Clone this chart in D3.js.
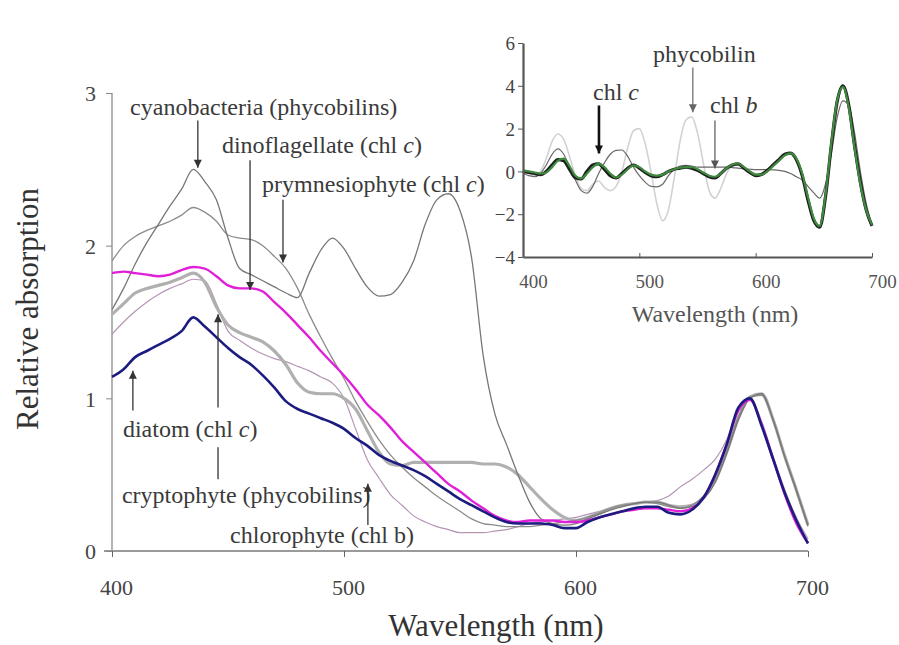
<!DOCTYPE html>
<html>
<head>
<meta charset="utf-8">
<script src="https://cdn.jsdelivr.net/npm/d3@7"></script>
<style>
  body { margin: 0; background: #fff; }
</style>
</head>
<body>
<div id="chart"></div>
<script>
// wavelength grid (nm), shared by every curve
var wavelength = [400,405,410,415,420,425,430,435,440,445,450,455,460,465,470,475,480,485,490,495,
  500,505,510,515,520,525,530,535,540,545,550,555,560,565,570,575,580,585,590,595,
  600,605,610,615,620,625,630,635,640,645,650,655,660,665,670,675,680,685,690,695,700];

// main panel: relative absorption spectra
var cyanobacteria = [1.58,1.72,1.88,2.02,2.14,2.26,2.37,2.50,2.42,2.30,2.05,1.85,1.81,1.77,1.73,1.69,1.66,1.82,1.97,2.05,
  1.98,1.85,1.73,1.67,1.68,1.76,1.90,2.14,2.30,2.34,2.23,1.92,1.28,0.90,0.70,0.50,0.32,0.21,0.18,0.17,
  0.18,0.21,0.24,0.27,0.29,0.31,0.32,0.32,0.30,0.28,0.29,0.34,0.45,0.64,0.86,1.00,1.03,0.86,0.62,0.40,0.17];
var prymnesiophyte = [1.90,2.00,2.06,2.10,2.13,2.16,2.20,2.25,2.22,2.16,2.07,2.05,2.04,2.00,1.93,1.85,1.72,1.55,1.40,1.26,
  1.13,0.98,0.85,0.73,0.63,0.55,0.48,0.42,0.36,0.31,0.26,0.21,0.18,0.17,0.16,0.16,0.16,0.17,0.18,0.19,
  0.20,0.22,0.25,0.28,0.30,0.31,0.32,0.31,0.29,0.28,0.30,0.36,0.47,0.66,0.88,1.01,1.02,0.85,0.61,0.39,0.16];
var dinoflagellate = [1.82,1.83,1.82,1.81,1.80,1.81,1.84,1.86,1.85,1.80,1.74,1.72,1.72,1.70,1.63,1.56,1.48,1.40,1.31,1.23,
  1.15,1.06,0.96,0.89,0.81,0.72,0.65,0.58,0.51,0.44,0.39,0.33,0.28,0.23,0.20,0.19,0.20,0.20,0.20,0.19,
  0.19,0.20,0.22,0.24,0.26,0.27,0.28,0.28,0.27,0.26,0.28,0.35,0.50,0.70,0.92,0.99,0.83,0.60,0.37,0.18,0.05];
var diatom = [1.14,1.19,1.27,1.31,1.35,1.39,1.44,1.53,1.47,1.40,1.33,1.27,1.22,1.15,1.07,0.98,0.93,0.90,0.87,0.84,
  0.80,0.74,0.69,0.63,0.59,0.56,0.53,0.49,0.44,0.39,0.34,0.30,0.26,0.22,0.19,0.18,0.18,0.18,0.17,0.15,
  0.15,0.19,0.22,0.24,0.26,0.28,0.29,0.29,0.25,0.24,0.27,0.35,0.50,0.70,0.94,1.00,0.82,0.60,0.38,0.20,0.05];
var cryptophyte = [1.55,1.62,1.69,1.72,1.74,1.76,1.79,1.82,1.76,1.60,1.48,1.43,1.40,1.37,1.31,1.22,1.10,1.04,1.03,1.03,
  1.00,0.93,0.79,0.65,0.57,0.56,0.58,0.58,0.58,0.58,0.58,0.58,0.57,0.57,0.55,0.50,0.42,0.34,0.27,0.22,
  0.20,0.22,0.25,0.28,0.30,0.31,0.32,0.32,0.30,0.29,0.30,0.35,0.46,0.65,0.87,1.01,1.03,0.86,0.62,0.40,0.17];
var chlorophyte = [1.42,1.50,1.57,1.63,1.68,1.72,1.75,1.78,1.77,1.62,1.44,1.38,1.33,1.29,1.26,1.24,1.21,1.18,1.14,1.10,
  1.00,0.80,0.60,0.48,0.37,0.30,0.23,0.19,0.16,0.14,0.12,0.12,0.12,0.13,0.14,0.16,0.18,0.19,0.20,0.21,
  0.22,0.24,0.26,0.28,0.30,0.31,0.32,0.33,0.36,0.42,0.47,0.53,0.60,0.73,0.94,1.00,0.85,0.62,0.40,0.22,0.08];

// inset: fourth-derivative style spectra
var insetGreen = [0.05,0.00,-0.05,-0.10,-0.05,0.20,0.50,0.60,0.25,-0.20,-0.33,-0.10,0.20,0.35,0.20,-0.10,-0.28,-0.15,0.10,0.28,
  0.20,0.00,-0.15,-0.20,-0.15,0.00,0.10,0.18,0.20,0.20,0.10,-0.05,-0.20,-0.25,-0.10,0.15,0.32,0.37,0.20,0.00,
  -0.15,-0.15,0.00,0.25,0.50,0.75,0.84,0.60,-0.10,-1.20,-2.20,-2.55,-1.10,1.30,3.30,3.95,3.00,1.10,-0.60,-1.80,-2.50];
var insetBlack = [0.00,-0.05,-0.10,-0.15,0.00,0.30,0.55,0.50,0.10,-0.30,-0.35,0.00,0.30,0.35,0.10,-0.20,-0.30,-0.10,0.15,0.30,
  0.15,-0.05,-0.20,-0.25,-0.15,0.00,0.10,0.15,0.20,0.15,0.05,-0.10,-0.25,-0.30,-0.10,0.15,0.30,0.35,0.15,-0.05,
  -0.20,-0.15,0.05,0.30,0.55,0.80,0.85,0.55,-0.20,-1.35,-2.30,-2.60,-1.20,1.20,3.25,4.00,3.10,1.20,-0.50,-1.80,-2.55];
var insetDarkGray = [-0.10,-0.20,-0.25,-0.10,0.30,0.80,1.05,0.80,0.20,-0.40,-0.90,-1.02,-0.70,-0.10,0.40,0.80,0.98,1.00,0.70,0.20,
  -0.20,-0.50,-0.70,-0.72,-0.60,-0.20,0.10,0.25,0.28,0.25,0.20,0.20,0.20,0.20,0.20,0.20,0.18,0.15,0.12,0.10,
  0.08,0.08,0.08,0.07,0.05,0.00,-0.10,-0.25,-0.40,-0.70,-1.00,-1.25,-0.60,0.80,2.50,3.30,3.10,1.80,0.00,-1.50,-2.50];
var insetPhycobilin = [0.00,-0.10,-0.20,0.00,0.60,1.40,1.75,1.50,0.70,-0.20,-0.80,-0.90,-0.60,-0.45,-0.75,-0.90,-0.70,0.00,1.10,1.90,
  2.00,1.30,0.00,-1.50,-2.30,-1.80,-0.30,1.40,2.40,2.55,1.80,0.40,-0.90,-1.25,-0.80,-0.10,0.25,0.30,0.15,0.00,
  -0.10,-0.10,0.00,0.25,0.50,0.75,0.80,0.45,-0.20,-1.30,-2.30,-2.50,-1.20,1.00,3.20,3.90,3.00,1.10,-0.60,-1.80,-2.50];

var mainTicksX = [400, 500, 600, 700],
    mainTicksY = [0, 1, 2, 3],
    insetTicksX = [400, 500, 600, 700],
    insetTicksY = [-4, -2, 0, 2, 4, 6];

var serif = "Liberation Serif, Times New Roman, Times, DejaVu Serif, serif";

var svg = d3.select("#chart")
  .append("svg")
    .attr("width", 899)
    .attr("height", 645)
    .style("font-family", serif);

// ---------- main panel ----------
var x = d3.scaleLinear().domain([400, 700]).range([112, 808]);
var y = d3.scaleLinear().domain([0, 3]).range([551, 93]);

// axes
svg.append("line")
  .attr("x1", x(400) - 8).attr("x2", x(700))
  .attr("y1", y(0)).attr("y2", y(0))
  .attr("stroke", "#9a9a9a").attr("stroke-width", 2);
svg.append("line")
  .attr("x1", x(400)).attr("x2", x(400))
  .attr("y1", y(0)).attr("y2", y(3))
  .attr("stroke", "#9a9a9a").attr("stroke-width", 1.5);

var xAxis = svg.append("g")
  .attr("transform", "translate(0," + y(0) + ")")
  .call(d3.axisBottom(x).tickValues(mainTicksX).tickSize(6).tickSizeOuter(0));
xAxis.select(".domain").remove();
xAxis.selectAll("line").attr("stroke", "#666");
xAxis.selectAll("text")
  .attr("dx", 4).attr("dy", 0).attr("y", 44)
  .style("font-family", serif)
  .style("font-size", "22px").attr("fill", "#444");

var yAxis = svg.append("g")
  .attr("transform", "translate(" + x(400) + ",0)")
  .call(d3.axisLeft(y).tickValues(mainTicksY).tickSize(6).tickSizeOuter(0).tickFormat(d3.format("d")));
yAxis.select(".domain").remove();
yAxis.selectAll("line").attr("stroke", "#888");
yAxis.selectAll("text")
  .attr("x", -16).attr("dy", "0.35em")
  .style("font-family", serif)
  .style("font-size", "22px").attr("fill", "#444");

// curves
var line = d3.line()
  .x(function(d) { return x(d[0]); })
  .y(function(d) { return y(d[1]); })
  .curve(d3.curveMonotoneX);

var mainSeries = [
  { values: chlorophyte,    color: "#b596b5", width: 1.2 },
  { values: cryptophyte,    color: "#b0b0b0", width: 3.2 },
  { values: prymnesiophyte, color: "#8c8c8c", width: 1.3 },
  { values: cyanobacteria,  color: "#777777", width: 1.3 },
  { values: dinoflagellate, color: "#e020d8", width: 2.4 },
  { values: diatom,         color: "#1c1c80", width: 2.6 }
];

svg.append("g")
  .selectAll("path")
  .data(mainSeries)
  .enter()
  .append("path")
    .attr("fill", "none")
    .attr("stroke", function(d) { return d.color; })
    .attr("stroke-width", function(d) { return d.width; })
    .attr("stroke-linejoin", "round")
    .attr("d", function(d) { return line(wavelength.map(function(w, i) { return [w, d.values[i]]; })); });

// axis titles
svg.append("text")
  .attr("text-anchor", "middle")
  .attr("x", 496).attr("y", 636)
  .style("font-family", serif)
  .style("font-size", "31px").attr("fill", "#333")
  .text("Wavelength (nm)");
svg.append("text")
  .attr("text-anchor", "middle")
  .attr("transform", "translate(38,309) rotate(-90)")
  .style("font-family", serif)
  .style("font-size", "31px").attr("fill", "#333")
  .text("Relative absorption");

// arrows pointing at the curves
function arrow(g, ax, y0, y1, color, w, head) {
  g.append("line")
    .attr("x1", ax).attr("x2", ax).attr("y1", y0).attr("y2", y1)
    .attr("stroke", color).attr("stroke-width", w);
  var dir = y1 > y0 ? 1 : -1;
  g.append("path")
    .attr("d", "M" + ax + "," + y1 + "L" + (ax - head / 2) + "," + (y1 - dir * head) +
               "L" + (ax + head / 2) + "," + (y1 - dir * head) + "Z")
    .attr("fill", color);
}

// labels: text start (nm, value) and arrow (nm, from value, to value)
var mainLabels = [
  { name: "cyanobacteria (phycobilins)", it: "", tx: 407.8, ty: 2.856, ax: 437, a0: 2.82, a1: 2.51 },
  { name: "dinoflagellate (chl ", it: "c", tail: ")", tx: 447.4, ty: 2.607, ax: 459.5, a0: 2.56, a1: 1.71 },
  { name: "prymnesiophyte (chl ", it: "c", tail: ")", tx: 464.7, ty: 2.351, ax: 473.7, a0: 2.30, a1: 1.89 },
  { name: "diatom (chl ", it: "c", tail: ")", tx: 404.7, ty: 0.747, ax: 409, a0: 0.92, a1: 1.18 },
  { name: "cryptophyte (phycobilins)", it: "", tx: 404.3, ty: 0.314, ax: 445.7, a0: 0.94, a1: 1.55 },
  { name: "chlorophyte (chl b)", it: "", tx: 450.9, ty: 0.052, ax: 510.3, a0: 0.17, a1: 0.44 }
];

var labelG = svg.append("g");
mainLabels.forEach(function(d) {
  var t = labelG.append("text")
    .attr("x", x(d.tx)).attr("y", y(d.ty))
    .style("font-family", serif)
    .style("font-size", "24px").attr("fill", "#3a3a3a");
  t.append("tspan").text(d.name);
  if (d.it) {
    t.append("tspan").style("font-style", "italic").text(d.it);
    t.append("tspan").text(d.tail);
  }
  arrow(labelG, x(d.ax), y(d.a0), y(d.a1), "#333", 1.3, 8);
});
// lower piece of the cryptophyte arrow, below the diatom label
labelG.append("line")
  .attr("x1", x(445.7)).attr("x2", x(445.7))
  .attr("y1", y(0.68)).attr("y2", y(0.47))
  .attr("stroke", "#333").attr("stroke-width", 1.3);

// ---------- inset ----------
var xi = d3.scaleLinear().domain([400, 700]).range([523, 872]);
var yi = d3.scaleLinear().domain([-4, 6]).range([257, 43]);

var insetSeries = [
  { values: insetPhycobilin, color: "#d2d2d2", width: 1.6 },
  { values: insetDarkGray,   color: "#6a6a6a", width: 1.2 },
  { values: insetBlack,      color: "#1e1e1e", width: 3.2 },
  { values: insetGreen,      color: "#3f8a3f", width: 2.2 }
];

var lineI = d3.line()
  .x(function(d) { return xi(d[0]); })
  .y(function(d) { return yi(d[1]); })
  .curve(d3.curveMonotoneX);

svg.append("g")
  .selectAll("path")
  .data(insetSeries)
  .enter()
  .append("path")
    .attr("fill", "none")
    .attr("stroke", function(d) { return d.color; })
    .attr("stroke-width", function(d) { return d.width; })
    .attr("stroke-linejoin", "round")
    .attr("d", function(d) { return lineI(wavelength.map(function(w, i) { return [w, d.values[i]]; })); });

var xiAxis = svg.append("g")
  .attr("transform", "translate(0," + yi(-4) + ")")
  .call(d3.axisBottom(xi).tickValues(insetTicksX).tickSize(-4).tickSizeOuter(0));
xiAxis.select(".domain").attr("stroke", "#555").attr("stroke-width", 2.2);
xiAxis.selectAll("line").attr("stroke", "#555");
xiAxis.selectAll("text")
  .attr("dx", 10).attr("dy", 0).attr("y", 31)
  .style("font-family", serif)
  .style("font-size", "19px").attr("fill", "#555");

var yiAxis = svg.append("g")
  .attr("transform", "translate(" + xi(400) + ",0)")
  .call(d3.axisLeft(yi).tickValues(insetTicksY).tickSize(5).tickSizeOuter(0).tickFormat(d3.format("d")));
yiAxis.select(".domain").attr("stroke", "#555").attr("stroke-width", 2.2);
yiAxis.selectAll("line").attr("stroke", "#555");
yiAxis.selectAll("text")
  .attr("x", -8).attr("dy", "0.35em")
  .style("font-family", serif)
  .style("font-size", "19px").attr("fill", "#444");

svg.append("text")
  .attr("text-anchor", "middle")
  .attr("x", 715).attr("y", 322)
  .style("font-family", serif)
  .style("font-size", "24px").attr("fill", "#555")
  .text("Wavelength (nm)");

var insetLabels = [
  { name: "chl ", it: "c", tx: 460.2, ty: 3.32, ax: 465.3, a0: 3.08, a1: 0.84, color: "#111", w: 2.6 },
  { name: "phycobilin", it: "", tx: 511.8, ty: 5.09, ax: 546, a0: 4.86, a1: 2.76, color: "#666", w: 1.2 },
  { name: "chl ", it: "b", tx: 560.8, ty: 2.71, ax: 565, a0: 2.38, a1: 0.14, color: "#555", w: 1.2 }
];

var insetG = svg.append("g");
insetLabels.forEach(function(d) {
  var t = insetG.append("text")
    .attr("x", xi(d.tx)).attr("y", yi(d.ty))
    .style("font-family", serif)
    .style("font-size", "24px").attr("fill", "#3a3a3a");
  t.append("tspan").text(d.name);
  if (d.it) t.append("tspan").style("font-style", "italic").text(d.it);
  arrow(insetG, xi(d.ax), yi(d.a0), yi(d.a1), d.color, d.w, 8);
});
</script>
</body>
</html>
